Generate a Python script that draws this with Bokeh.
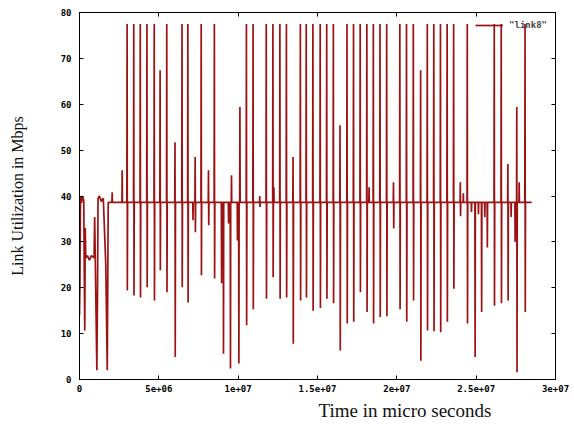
from bokeh.plotting import figure
from bokeh.models import (Range1d, FixedTicker, LinearAxis, Legend, LegendItem, Title,
                          CustomLabelingPolicy)
from bokeh.embed import file_html
from bokeh.resources import INLINE

# ---------------- data ----------------
baseline_mbps = 38.6
end_time_us = 28.5e6

# start-up phase (time in micro seconds, Mbps)
start_t = [0, 2.5e4, 6.25e4, 1.25e5, 1.875e5, 2.69e5, 3.0e5, 3.31e5, 3.63e5, 3.94e5,
           5.0e5, 6.25e5, 7.5e5, 9.19e5, 9.56e5, 1.0e6, 1.094e6, 1.138e6, 1.169e6,
           1.25e6, 1.375e6, 1.5e6, 1.544e6, 1.656e6, 1.75e6, 1.81e6]
start_v = [14, 20, 40, 38.5, 40, 39, 24, 10.7, 33, 26.5,
           27, 26, 27, 26.5, 35.4, 25, 2, 20, 39.5,
           40, 38.8, 39.5, 35.4, 25, 2, 38.6]

# bursts around the steady level: time, peak, trough
spike_t = [2.06e6, 2.69e6, 3.0e6, 3.42e6, 3.83e6, 4.25e6, 4.71e6, 5.08e6, 5.5e6, 6.02e6,
           6.46e6, 6.83e6, 7.14e6, 7.29e6, 7.67e6, 8.13e6, 8.5e6, 8.94e6, 9.06e6, 9.38e6,
           9.5e6, 9.58e6, 9.94e6, 10.03e6, 10.11e6, 10.52e6, 10.94e6, 11.36e6, 11.77e6, 12.19e6,
           12.25e6, 12.63e6, 13.04e6, 13.46e6, 13.92e6, 14.29e6, 14.71e6, 15.17e6, 15.58e6, 16.0e6,
           16.42e6, 16.86e6, 17.27e6, 17.69e6, 18.11e6, 18.25e6, 18.52e6, 18.94e6, 19.36e6, 19.79e6,
           20.19e6, 20.61e6, 21.04e6, 21.5e6, 21.92e6, 22.33e6, 22.75e6, 23.17e6, 23.58e6, 24.0e6,
           24.19e6, 24.44e6, 24.69e6, 24.92e6, 25.13e6, 25.33e6, 25.53e6, 25.69e6, 26.14e6, 26.58e6,
           27.0e6, 27.19e6, 27.44e6, 27.56e6, 27.71e6, 28.08e6]
spike_hi = [40.8, 45.6, 77.5, 77.5, 77.5, 77.5, 77.5, 67.4, 77.5, 51.7,
            77.5, 77.5, 38.6, 48.5, 77.5, 45.6, 77.5, 38.6, 38.6, 38.6,
            38.6, 44.5, 38.6, 38.6, 59.4, 77.5, 77.5, 40.0, 77.5, 77.5,
            41.9, 77.5, 77.5, 48.5, 77.5, 77.5, 77.5, 77.5, 77.5, 77.5,
            55.4, 77.5, 77.5, 77.5, 77.5, 41.9, 77.5, 77.5, 77.5, 43.0,
            77.5, 77.5, 77.5, 67.4, 77.5, 77.5, 77.5, 77.5, 77.5, 43.0,
            40.6, 77.5, 38.6, 38.6, 38.6, 38.6, 38.6, 38.6, 77.5, 77.5,
            47.0, 38.6, 38.6, 59.4, 43.0, 77.5]
spike_lo = [38.6, 38.6, 19.4, 18.3, 17.9, 20.1, 17.2, 23.8, 19.0, 4.9,
            20.1, 16.8, 34.7, 32.1, 22.7, 33.6, 22.0, 21.0, 5.6, 34.0,
            2.4, 38.6, 30.3, 3.5, 38.6, 11.8, 15.3, 37.6, 17.6, 22.3,
            38.6, 17.6, 17.9, 7.8, 17.2, 17.9, 15.0, 15.6, 17.6, 16.6,
            6.3, 12.2, 12.6, 19.0, 14.7, 38.6, 12.2, 13.6, 13.8, 32.9,
            15.3, 12.6, 17.2, 4.1, 10.7, 10.5, 10.3, 12.6, 19.8, 35.6,
            38.6, 12.2, 36.5, 4.9, 36.0, 14.7, 35.4, 28.8, 16.1, 16.6,
            17.2, 35.4, 30.0, 1.6, 38.6, 14.7]

x_ticks = [0, 5e6, 1e7, 1.5e7, 2e7, 2.5e7, 3e7]
x_tick_labels = ["0", "5e+06", "1e+07", "1.5e+07", "2e+07", "2.5e+07", "3e+07"]
y_ticks = [0, 10, 20, 30, 40, 50, 60, 70, 80]

# ---------------- build the trace ----------------
ts = list(start_t)
vs = list(start_v)
w = 1.5e4
for t, hi, lo in zip(spike_t, spike_hi, spike_lo):
    ts += [t - w, t, t + w, t + 2 * w]
    vs += [baseline_mbps, hi, lo, baseline_mbps]
ts.append(end_time_us)
vs.append(baseline_mbps)

# ---------------- figure ----------------
p = figure(width=570, height=424, output_backend="svg", toolbar_location=None,
           x_range=Range1d(0, 3e7), y_range=Range1d(0, 80),
           min_border_left=79, min_border_right=11, min_border_top=12, min_border_bottom=45)
p.background_fill_color = "white"
p.border_fill_color = "white"
p.outline_line_color = "black"
p.outline_line_width = 1
p.xgrid.visible = False
p.ygrid.visible = False

line = p.line(ts, vs, line_color="#9c1212", line_width=1.7)

tick_font = "DejaVu Sans Mono"
for ax in p.xaxis:
    ax.ticker = FixedTicker(ticks=x_ticks)
    ax.major_label_overrides = {t: s for t, s in zip(x_ticks, x_tick_labels)}
    ax.major_label_standoff = 5
for ax in p.yaxis:
    ax.ticker = FixedTicker(ticks=y_ticks)
    ax.axis_label = "Link Utilization in Mbps"
    ax.axis_label_text_font = "Liberation Serif"
    ax.axis_label_text_font_size = "16px"
    ax.axis_label_text_font_style = "normal"
    ax.axis_label_text_color = "#111111"
    ax.axis_label_standoff = 32
    ax.major_label_standoff = 8

for ax in list(p.xaxis) + list(p.yaxis):
    ax.major_tick_in = 4
    ax.major_tick_out = 0
    ax.minor_tick_line_color = None
    ax.axis_line_color = "black"
    ax.major_tick_line_color = "black"
    ax.major_label_text_font = tick_font
    ax.major_label_text_font_style = "bold"
    ax.major_label_text_font_size = "9px"
    ax.major_label_text_color = "black"

top_ax = LinearAxis(ticker=FixedTicker(ticks=x_ticks),
                    major_label_policy=CustomLabelingPolicy(code="return new Set()"),
                    major_label_standoff=0, major_tick_in=4, major_tick_out=0,
                    minor_tick_line_color=None, axis_line_color="black")
right_ax = LinearAxis(ticker=FixedTicker(ticks=y_ticks),
                      major_label_policy=CustomLabelingPolicy(code="return new Set()"),
                      major_label_standoff=0, major_tick_in=4, major_tick_out=0,
                      minor_tick_line_color=None, axis_line_color="black")
p.add_layout(top_ax, "above")
p.add_layout(right_ax, "right")

xlabel = Title(text="Time in micro seconds", align="left", offset=239,
               text_font="Liberation Serif", text_font_size="19px",
               text_font_style="normal", text_color="#111111", standoff=7)
p.add_layout(xlabel, "below")

legend = Legend(items=[LegendItem(label='"link8"', renderers=[line])],
                location="top_right", background_fill_alpha=0, border_line_alpha=0,
                label_text_font=tick_font, label_text_font_style="bold",
                label_text_font_size="9px", glyph_width=28, glyph_height=8,
                label_standoff=6, padding=2, margin=6, label_height=8)
p.add_layout(legend)

open("out.html", "w").write(file_html(p, INLINE))
